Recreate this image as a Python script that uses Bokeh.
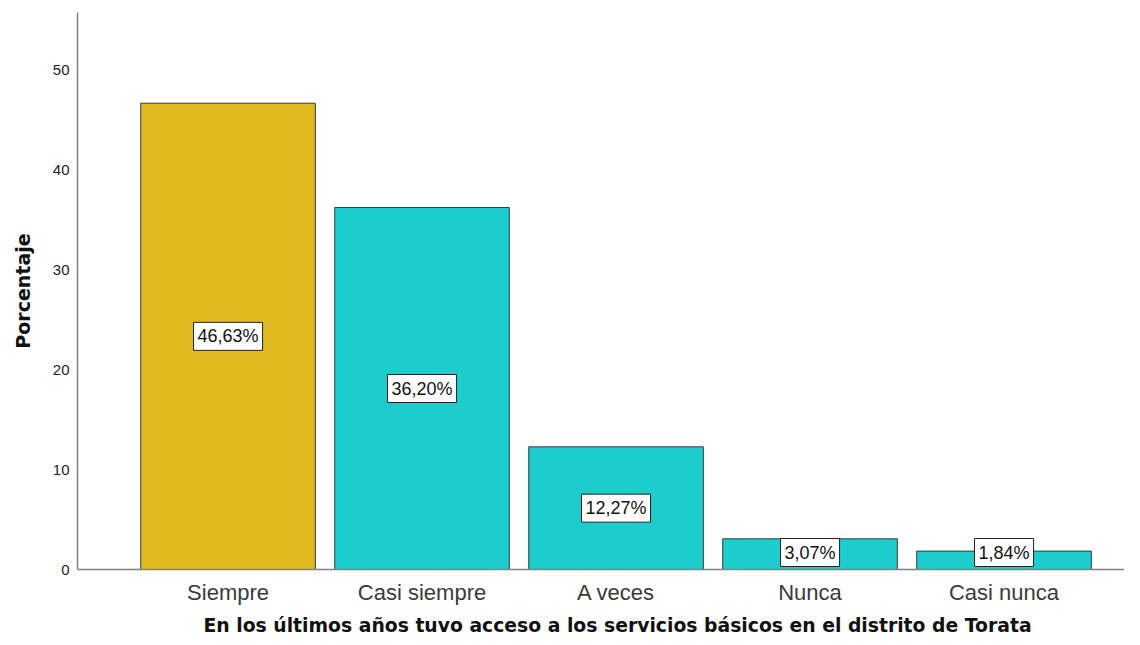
from bokeh.plotting import figure
from bokeh.models import ColumnDataSource, FixedTicker, Range1d, Title
from bokeh.core.properties import value
from bokeh.embed import file_html
from bokeh.resources import INLINE

categories = ["Siempre", "Casi siempre", "A veces", "Nunca", "Casi nunca"]
percentages = [46.63, 36.20, 12.27, 3.07, 1.84]
labels = ["46,63%", "36,20%", "12,27%", "3,07%", "1,84%"]
bar_colors = ["#E0BA1E", "#1DCDCD", "#1DCDCD", "#1DCDCD", "#1DCDCD"]
y_ticks = [0, 10, 20, 30, 40, 50]
x_title = "En los últimos años tuvo acceso a los servicios básicos en el distrito de Torata"
y_title = "Porcentaje"

xs = list(range(len(categories)))
label_y = [max(v / 2, 1.7) for v in percentages]

src = ColumnDataSource(dict(x=xs, top=percentages, color=bar_colors,
                            ly=label_y, text=labels))

p = figure(width=1124, height=640, output_backend="svg", toolbar_location=None,
           x_range=Range1d(-0.776, 4.621), y_range=Range1d(0, 55.7),
           min_border_left=77, min_border_right=0, min_border_top=12,
           min_border_bottom=20)
p.outline_line_color = None
p.grid.visible = False
p.background_fill_color = "white"

p.vbar(x="x", top="top", width=0.9, bottom=0, source=src, fill_color="color",
       line_color="#3a3a3a", line_width=1)

p.text(x="x", y="ly", text="text", source=src, text_align="center",
       text_baseline="middle", text_font=value("Liberation Sans"),
       text_font_size="18px", text_color="#111111",
       background_fill_color="white", border_line_color="#222222",
       border_line_width=1, padding=4)

p.xaxis.ticker = FixedTicker(ticks=xs)
p.xaxis.major_label_overrides = {i: c for i, c in enumerate(categories)}
p.xaxis.major_tick_line_color = None
p.xaxis.minor_tick_line_color = None
p.xaxis.axis_line_color = "#808080"
p.xaxis.axis_line_width = 1.5
p.xaxis.major_label_text_font = "Liberation Sans"
p.xaxis.major_label_text_font_size = "22px"
p.xaxis.major_label_text_color = "#3a3a3a"
p.xaxis.major_label_standoff = 4

xt = Title(text=x_title, align="left", offset=126, standoff=10,
           text_font="DejaVu Sans", text_font_style="bold",
           text_font_size="18.8px", text_color="#111111")
p.add_layout(xt, "below")

p.yaxis.ticker = FixedTicker(ticks=y_ticks)
p.yaxis.major_tick_line_color = None
p.yaxis.minor_tick_line_color = None
p.yaxis.axis_line_color = "#808080"
p.yaxis.axis_line_width = 1.5
p.yaxis.major_label_text_font = "Liberation Sans"
p.yaxis.major_label_text_font_size = "15px"
p.yaxis.major_label_text_color = "#222222"
p.yaxis.major_label_standoff = 2
p.yaxis.axis_label = y_title
p.yaxis.axis_label_text_font = "DejaVu Sans"
p.yaxis.axis_label_text_font_style = "bold"
p.yaxis.axis_label_text_font_size = "19px"
p.yaxis.axis_label_text_color = "#111111"
p.yaxis.axis_label_standoff = 16

open("out.html", "w").write(file_html(p, INLINE))
